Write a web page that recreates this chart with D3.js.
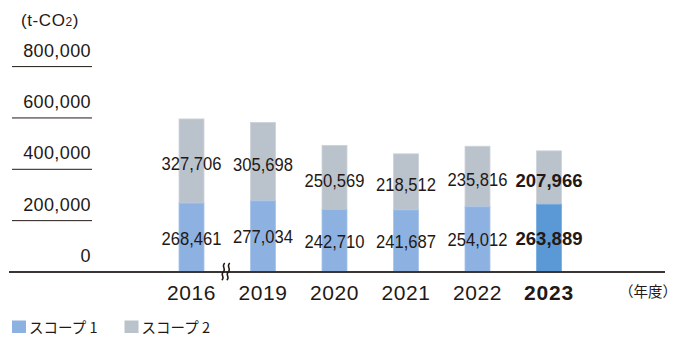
<!DOCTYPE html>
<html>
<head>
<meta charset="utf-8">
<script src="https://cdn.jsdelivr.net/npm/d3@7"></script>
<style>
  html, body { margin: 0; padding: 0; background: #fff; }
  svg { display: block; }
  text { fill: #231815; }
</style>
</head>
<body>
<svg id="chart" width="680" height="341"></svg>
<script>
// CO2 emissions by fiscal year (t-CO2)
const years = ["2016", "2019", "2020", "2021", "2022", "2023"];
const scope1 = [268461, 277034, 242710, 241687, 254012, 263889];
const scope2 = [327706, 305698, 250569, 218512, 235816, 207966];
const yTicks = [0, 200000, 400000, 600000, 800000];
const legendLabels = ["スコープ 1", "スコープ 2"];

const latest = "2023";
const colScope1 = "#8db2e1";
const colScope1Latest = "#5b99d6";
const colScope2 = "#bac3cc";
const ink = "#231815";

const svg = d3.select("#chart");
const fmt = d3.format(",");

const y = d3.scaleLinear().domain([0, 800000]).range([272, 66.6]);
const x = d3.scalePoint().domain(years).range([191.5, 549]);
const barW = 25;

// y-axis: short rules under each value label
const yAxis = svg.append("g");
yAxis.selectAll("line.grid")
  .data(yTicks.filter(d => d > 0))
  .join("line")
  .attr("x1", 12).attr("x2", 92)
  .attr("y1", d => y(d)).attr("y2", d => y(d))
  .attr("stroke", ink).attr("stroke-width", 1);
yAxis.selectAll("text")
  .data(yTicks)
  .join("text")
  .attr("x", 91).attr("y", d => y(d) - 10)
  .attr("text-anchor", "end")
  .style("font-family", "'Liberation Sans', Arial, sans-serif")
  .style("font-size", "18px")
  .style("letter-spacing", "0.4px")
  .text(d => fmt(d));

// unit
const unit = svg.append("text")
  .attr("x", 21).attr("y", 26)
  .style("font-family", "'Liberation Sans', Arial, sans-serif")
  .style("font-size", "17px")
  .style("letter-spacing", "0.6px");
unit.append("tspan").text("(t-CO");
unit.append("tspan").attr("font-size", "12px").text("2");
unit.append("tspan").text(")");

// stacked bars
const rows = years.map((yr, i) => ({ yr, s1: scope1[i], s2: scope2[i] }));
const bars = svg.append("g");
bars.selectAll("rect.s2")
  .data(rows).join("rect")
  .attr("x", d => x(d.yr) - barW / 2)
  .attr("y", d => y(d.s1 + d.s2))
  .attr("width", barW)
  .attr("height", d => y(d.s1) - y(d.s1 + d.s2))
  .attr("fill", colScope2)
  .attr("stroke", "#cdd3d9").attr("stroke-width", 0.8);
bars.selectAll("rect.s1")
  .data(rows).join("rect")
  .attr("x", d => x(d.yr) - barW / 2)
  .attr("y", d => y(d.s1))
  .attr("width", barW)
  .attr("height", d => y(0) - y(d.s1))
  .attr("fill", d => d.yr === latest ? colScope1Latest : colScope1)
  .attr("stroke", d => d.yr === latest ? "#79acdf" : "#a6c3e8").attr("stroke-width", 0.8);

// value labels, centred in each segment
const labels = svg.append("g")
  .style("font-family", "'Liberation Sans', Arial, sans-serif");
function addLabels(key, yMid) {
  labels.selectAll("text." + key)
    .data(rows).join("text")
    .attr("class", key)
    .attr("x", d => x(d.yr))
    .attr("y", d => yMid(d) + 6.5)
    .attr("text-anchor", "middle")
    .style("font-size", d => d.yr === latest ? "18.5px" : "18px")
    .style("font-weight", d => d.yr === latest ? "bold" : "normal")
    .attr("textLength", d => d.yr === latest ? 67 : 60)
    .attr("lengthAdjust", "spacingAndGlyphs")
    .text(d => fmt(d[key]));
}
addLabels("s2", d => (y(d.s1) + y(d.s1 + d.s2)) / 2 + 2.5);
addLabels("s1", d => (y(0) + y(d.s1)) / 2 + 0.5);

// baseline
svg.append("line")
  .attr("x1", 9).attr("x2", 665)
  .attr("y1", y(0)).attr("y2", y(0))
  .attr("stroke", "#3a3533").attr("stroke-width", 2);

// axis break between 2016 and 2019
const brkX = (x("2016") + x("2019")) / 2 - 2;
[0, 5].forEach(off => {
  const cx = brkX + off - 2;
  svg.append("path")
    .attr("d", `M${cx + 1.5},263 C${cx - 2.5},266.5 ${cx + 3.5},269 ${cx},272 C${cx - 3.5},275 ${cx + 2.5},277.5 ${cx - 1.5},280`)
    .attr("fill", "none").attr("stroke", ink).attr("stroke-width", 1.5);
});

// year labels
svg.append("g").selectAll("text")
  .data(years).join("text")
  .attr("x", d => x(d)).attr("y", 300)
  .attr("text-anchor", "middle")
  .style("font-family", "'Liberation Sans', Arial, sans-serif")
  .style("font-size", "21px")
  .style("font-weight", d => d === latest ? "bold" : "normal")
  .style("letter-spacing", d => d === latest ? "0.8px" : "0.6px")
  .text(d => d);

svg.append("text")
  .attr("x", 619).attr("y", 297)
  .style("font-family", "'Noto Sans CJK JP', sans-serif")
  .style("font-size", "14.5px")
  .text("（年度）");

// legend
const legend = svg.append("g");
const legendCols = [colScope1, colScope2];
const legendX = [12, 124.5];
legendLabels.forEach((lab, i) => {
  legend.append("rect")
    .attr("x", legendX[i]).attr("y", 320.5)
    .attr("width", 14).attr("height", 12.5)
    .attr("fill", legendCols[i]);
  legend.append("text")
    .attr("x", legendX[i] + 17).attr("y", 333)
    .style("font-family", "'Noto Sans CJK JP', sans-serif")
    .style("font-size", "14.5px")
    .text(lab);
});
</script>
</body>
</html>
